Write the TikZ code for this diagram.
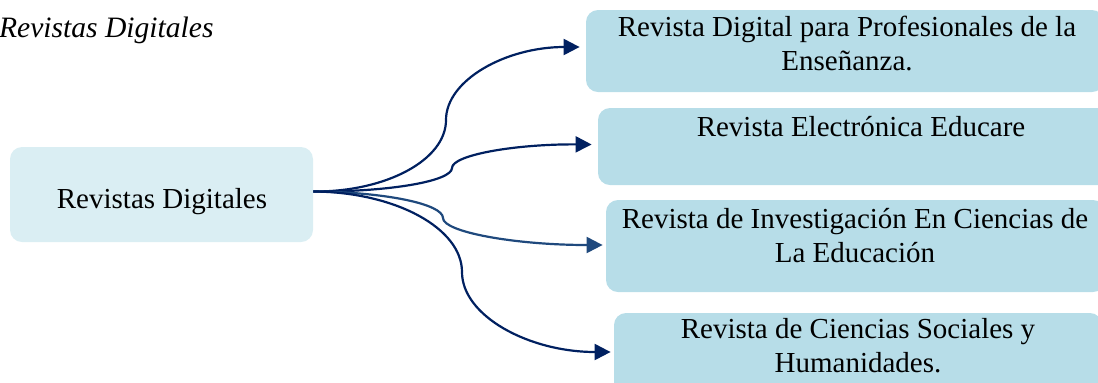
\documentclass[tikz,border=0pt]{standalone}
\usepackage{fontspec}
\setmainfont{Liberation Serif}
\usepackage{tikz}
\usetikzlibrary{arrows.meta}
\definecolor{navy}{HTML}{002060}
\definecolor{midblue}{HTML}{1F497D}
\definecolor{hubfill}{HTML}{DAEEF3}
\definecolor{subfill}{HTML}{B7DDE8}

\tikzset{
	hubbox/.style={fill=hubfill, rounded corners=6pt, minimum width=151.5pt, minimum height=47.5pt},
	subbox/.style={fill=subfill, rounded corners=6pt},
	boxtext/.style={anchor=base, align=center, inner sep=0pt},
	link/.style={navy, line width=1.1pt, -{Triangle[length=8pt,width=8pt]}}
}

\begin{document}
\begin{tikzpicture}[x=0.5pt, y=-0.5pt, font=\fontsize{14.5pt}{17pt}\selectfont]
	\clip (0,0) rectangle (1098,382);
	% Define nodes
	\node[anchor=base east, inner sep=0pt, font=\fontsize{14.8pt}{17pt}\selectfont\itshape] (title) at (214,37) {Revistas Digitales};
	\node[hubbox] (hub) at (161.5,194.5) {};
	\node[boxtext] (hubtext) at (162,208) {Revistas Digitales};
	\node[subbox, minimum width=259pt, minimum height=41pt] (r1) at (845,51) {};
	\node[subbox, minimum width=263pt, minimum height=38.5pt] (r2) at (861,146.5) {};
	\node[subbox, minimum width=249.5pt, minimum height=46pt] (r3) at (855.5,246) {};
	\node[subbox, minimum width=244pt, minimum height=41pt] (r4) at (858,354) {};
	% two-line texts sit on the baseline of their last line
	\node[boxtext] (r1text) at (847,70) {Revista Digital para Profesionales de la\\Enseñanza.};
	\node[boxtext] (r2text) at (861,136) {Revista Electrónica Educare};
	\node[boxtext] (r3text) at (855,262) {Revista de Investigación En Ciencias de\\La Educación};
	\node[boxtext] (r4text) at (858,372) {Revista de Ciencias Sociales y\\Humanidades.};
	% Links
	\draw[link, shorten >=3pt] ([yshift=1.5pt]hub.east) .. controls (386,192) and (446,160) .. (446,120)
		.. controls (446,80) and (506,47) .. ([yshift=2pt]r1.west);
	\draw[link, shorten >=3pt] ([yshift=1.5pt]hub.east) .. controls (390,192) and (452,181) .. (452,168)
		.. controls (452,155) and (515,144) .. ([yshift=1pt]r2.west);
	\draw[link, midblue, shorten >=1.5pt] ([yshift=1.5pt]hub.east) .. controls (385,192) and (443,204) .. (443,218)
		.. controls (443,232) and (515,245) .. ([yshift=0.5pt]r3.west);
	\draw[link, shorten >=1.5pt] ([yshift=1.5pt]hub.east) .. controls (395,192) and (462,228) .. (462,272)
		.. controls (462,316) and (529,352) .. ([yshift=1pt]r4.west);
\end{tikzpicture}
\end{document}
